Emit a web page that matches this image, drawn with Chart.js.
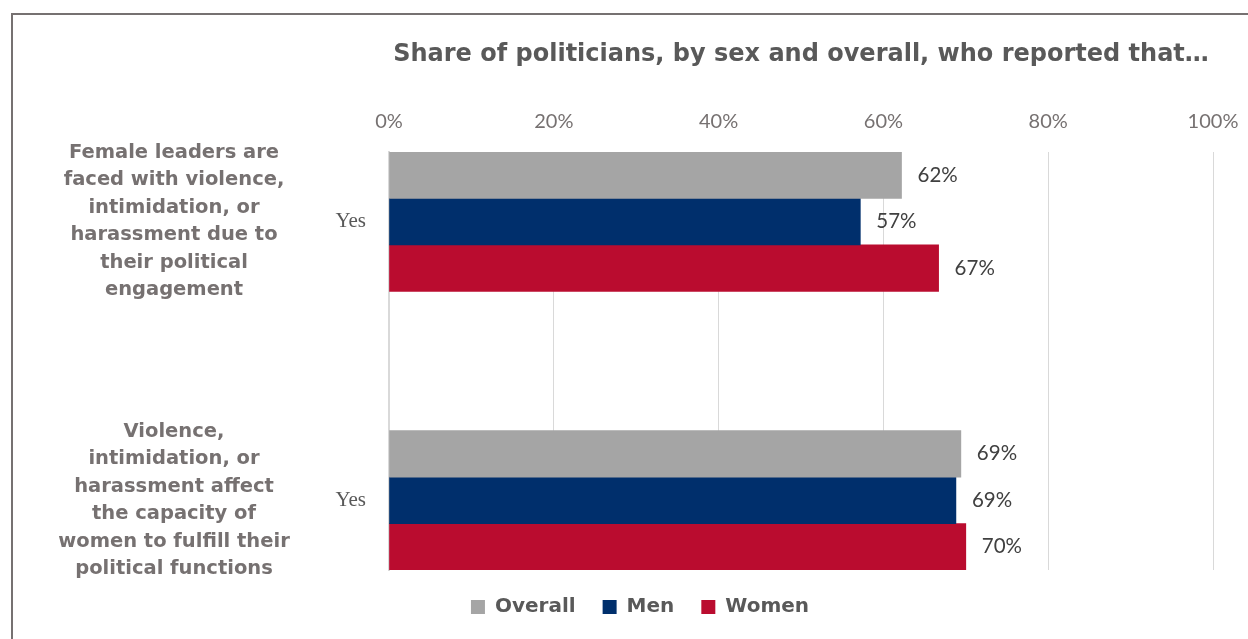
<!DOCTYPE html>
<html>
<head>
<meta charset="utf-8">
<script src="https://cdn.jsdelivr.net/npm/chart.js@4/dist/chart.umd.min.js"></script>
<style>
  body { margin: 0; background: #fff; }
  #wrap { position: relative; width: 1248px; height: 639px; overflow: hidden; }
  #frame { position: absolute; left: 11px; top: 13px; width: 1400px; height: 800px;
           border-left: 2px solid #767171; border-top: 2px solid #767171; }
  #grafico { position: absolute; left: 0; top: 0; }
</style>
</head>
<body>
<div id="wrap">
  <div id="frame"></div>
  <canvas id="grafico" width="1248" height="639"></canvas>
</div>
<script>
// Dados do gráfico
const titulo = 'Share of politicians, by sex and overall, who reported that\u2026';
const categorias = ['Yes', 'Yes'];
const perguntas = [
    ['Female leaders are', 'faced with violence,', 'intimidation, or', 'harassment due to', 'their political', 'engagement'],
    ['Violence,', 'intimidation, or', 'harassment affect', 'the capacity of', 'women to fulfill their', 'political functions']
];
const series = ['Overall', 'Men', 'Women'];
const overall = [62.2, 69.4];
const men = [57.2, 68.8];
const women = [66.7, 70.0];
const ticksX = [0, 20, 40, 60, 80, 100];
const cores = ['#A5A5A5', '#002F6C', '#BA0C2F'];

// Excel deixa um espaço vazio entre as duas perguntas
const slots = [categorias[0], '', categorias[1]];
const comEspaco = arr => [arr[0], null, arr[1]];

const fonteSans = 'Lato, "Open Sans", sans-serif';
const fonteNegrito = '"DejaVu Sans", sans-serif';

// Título centralizado na área do gráfico
const pluginTitulo = {
    id: 'titulo',
    afterDraw(chart) {
        const { ctx, chartArea } = chart;
        ctx.save();
        ctx.font = 'bold 24px ' + fonteNegrito;
        ctx.fillStyle = '#595959';
        ctx.textAlign = 'center';
        ctx.textBaseline = 'middle';
        ctx.fillText(titulo, (chartArea.left + chartArea.right) / 2, 55);
        ctx.restore();
    }
};

// Rótulos das perguntas à esquerda
const pluginPerguntas = {
    id: 'perguntas',
    afterDraw(chart) {
        const { ctx } = chart;
        const y = chart.scales.y;
        ctx.save();
        ctx.font = 'bold 19.5px ' + fonteNegrito;
        ctx.fillStyle = '#767171';
        ctx.textAlign = 'center';
        ctx.textBaseline = 'middle';
        const alturaLinha = 27.5;
        perguntas.forEach((linhas, i) => {
            const centro = y.getPixelForValue(i * 2);
            const inicio = centro - (linhas.length - 1) * alturaLinha / 2;
            linhas.forEach((linha, j) => {
                ctx.fillText(linha, 174, inicio + j * alturaLinha);
            });
        });
        ctx.restore();
    }
};

// Valores ao lado das barras
const pluginValores = {
    id: 'valores',
    afterDatasetsDraw(chart) {
        const { ctx } = chart;
        ctx.save();
        ctx.font = '20.5px ' + fonteSans;
        ctx.fillStyle = '#404040';
        ctx.textAlign = 'left';
        ctx.textBaseline = 'middle';
        chart.data.datasets.forEach((ds, i) => {
            chart.getDatasetMeta(i).data.forEach((bar, j) => {
                const v = ds.data[j];
                if (v === null) return;
                ctx.fillText(Math.round(v) + '%', bar.x + 16, bar.y);
            });
        });
        ctx.restore();
    }
};

new Chart(document.getElementById('grafico').getContext('2d'), {
    type: 'bar',
    data: {
        labels: slots,
        datasets: [
            { label: series[0], data: comEspaco(overall), backgroundColor: cores[0] },
            { label: series[1], data: comEspaco(men), backgroundColor: cores[1] },
            { label: series[2], data: comEspaco(women), backgroundColor: cores[2] }
        ]
    },
    options: {
        indexAxis: 'y',
        responsive: false,
        animation: false,
        barPercentage: 1,
        categoryPercentage: 1,
        layout: { padding: { top: 0, left: 67, right: 35, bottom: 12 } },
        plugins: {
            legend: {
                position: 'bottom',
                labels: {
                    boxWidth: 14,
                    boxHeight: 14,
                    padding: 27,
                    color: '#595959',
                    font: { family: fonteNegrito, size: 20, weight: 'bold' }
                }
            },
            tooltip: { enabled: false }
        },
        scales: {
            x: {
                position: 'top',
                min: 0,
                max: 100,
                afterBuildTicks: (escala) => {
                    escala.ticks = ticksX.map(v => ({ value: v }));
                },
                afterFit: (escala) => {
                    escala.height = 152;
                    escala.paddingRight = 0;
                    escala.paddingLeft = 0;
                },
                ticks: {
                    padding: 18,
                    color: '#767171',
                    font: { family: fonteSans, size: 20 },
                    callback: (v) => v + '%'
                },
                grid: { color: '#D9D9D9', lineWidth: 1, drawTicks: false },
                border: { display: false }
            },
            y: {
                afterFit: (escala) => { escala.width = 389 - 67; },
                ticks: {
                    padding: 23,
                    color: '#595959',
                    font: { family: '"Liberation Serif", serif', size: 21 }
                },
                grid: { display: false, drawTicks: false },
                border: { display: true, color: '#D9D9D9', width: 2 }
            }
        }
    },
    plugins: [pluginTitulo, pluginPerguntas, pluginValores]
});
</script>
</body>
</html>
